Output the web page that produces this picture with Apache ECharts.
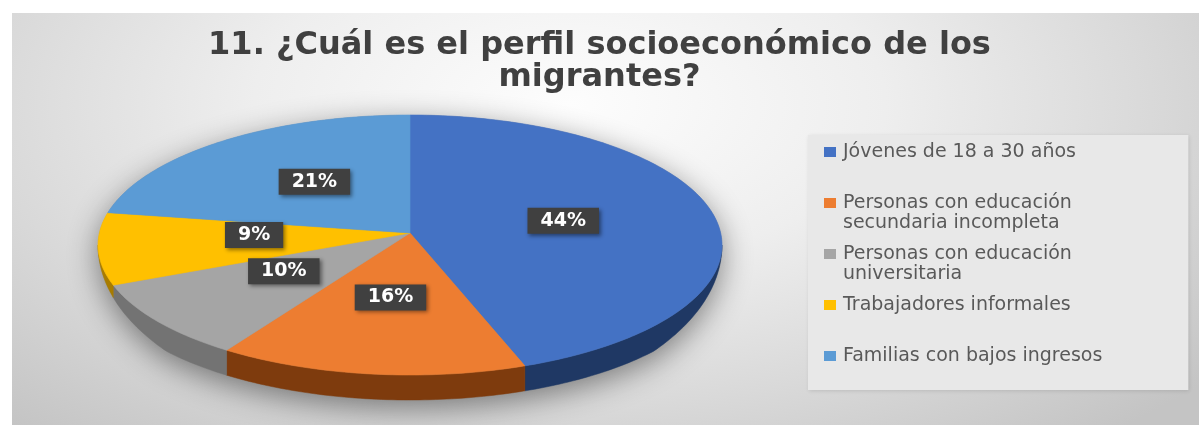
<!DOCTYPE html>
<html>
<head>
<meta charset="utf-8">
<script src="https://cdn.jsdelivr.net/npm/echarts@6/dist/echarts.min.js"></script>
<style>
html,body{margin:0;padding:0;background:#ffffff;width:1199px;height:425px;overflow:hidden;}
#bg{position:absolute;left:12px;top:13px;width:1187px;height:412px;
background:radial-gradient(ellipse 70% 105% at 47% 22%, #fdfdfd 0%, #eeeeee 38%, #d9d9d9 70%, #c4c4c4 100%);}
#chart{position:absolute;left:0;top:0;width:1199px;height:425px;}
</style>
</head>
<body>
<div id="bg"></div>
<div id="chart"></div>
<script>
// ---- data ----
const titleText = '11. ¿Cuál es el perfil socioeconómico de los\nmigrantes?';
const categories = [
  'Jóvenes de 18 a 30 años',
  'Personas con educación\nsecundaria incompleta',
  'Personas con educación\nuniversitaria',
  'Trabajadores informales',
  'Familias con bajos ingresos'
];
const values = [44, 16, 10, 9, 21];
const topColors = ['#4472C4', '#ED7D31', '#A5A5A5', '#FFC000', '#5B9BD5'];
const sideColors = ['#1F3864', '#7E3B0D', '#737373', '#A87C00', '#2F659A'];

// ---- layout (pixel geometry of the tilted pie) ----
const PIE = { cx: 410, cy: 245, rx: 312, ry: 130, apexDy: -12, depth: 25 };
const FONT = 'DejaVu Sans';

const total = values.reduce((a, b) => a + b, 0);
const startAng = [], endAng = [];
(function () {
  let acc = 0;
  values.forEach(v => { startAng.push(acc / total * 360); acc += v; endAng.push(acc / total * 360); });
})();

function depthAt(t) {
  const c = -Math.cos(t * Math.PI / 180);
  return PIE.depth * Math.max(0, Math.min(1, c * 1.6));
}
function rim(t, withDepth) {
  const r = t * Math.PI / 180;
  return [PIE.cx + PIE.rx * Math.sin(r), PIE.cy - PIE.ry * Math.cos(r) + (withDepth ? depthAt(t) : 0)];
}
function arc(a0, a1, withDepth) {
  const pts = [];
  const n = Math.max(2, Math.ceil(Math.abs(a1 - a0)));
  for (let k = 0; k <= n; k++) pts.push(rim(a0 + (a1 - a0) * k / n, withDepth));
  return pts;
}
const apex = [PIE.cx, PIE.cy + PIE.apexDy];

const series = [];
// base shadow + side walls
series.push({
  type: 'custom', name: 'base', coordinateSystem: 'none', silent: true, z: 1,
  data: values,
  renderItem: function (params) {
    const i = params.dataIndex;
    const children = [];
    if (i === 0) {
      const basePts = arc(-90, 90, false).concat(arc(90, 270, true));
      children.push({
        type: 'polygon', shape: { points: basePts },
        style: { fill: '#8f8f8f', shadowBlur: 30, shadowColor: 'rgba(0,0,0,0.45)', shadowOffsetY: 8 }
      });
    }
    const s = Math.max(startAng[i], 90), e = Math.min(endAng[i], 270);
    if (e > s) {
      const pts = arc(s, e, false).concat(arc(e, s, true));
      children.push({
        type: 'polygon', shape: { points: pts },
        style: { fill: sideColors[i], stroke: sideColors[i], lineWidth: 0.5 }
      });
    }
    return { type: 'group', children: children };
  }
});
// top faces, one series per category
categories.forEach((name, idx) => {
  series.push({
    type: 'custom', name: name, coordinateSystem: 'none', silent: true, z: 2,
    color: topColors[idx],
    data: [values[idx]],
    renderItem: function () {
      const pts = [apex].concat(arc(startAng[idx], endAng[idx], false));
      return {
        type: 'polygon', shape: { points: pts },
        style: { fill: topColors[idx], stroke: topColors[idx], lineWidth: 0.6 }
      };
    }
  });
});
// data labels
series.push({
  type: 'custom', name: 'labels', coordinateSystem: 'none', silent: true, z: 3,
  data: values,
  renderItem: function (params) {
    const i = params.dataIndex;
    const mid = (startAng[i] + endAng[i]) / 2;
    const p = rim(mid, false);
    const x = apex[0] + 0.5 * (p[0] - PIE.cx);
    const y = apex[1] + 0.5 * (p[1] - PIE.cy);
    return {
      type: 'text',
      style: {
        text: values[i] + '%', x: x, y: y, align: 'center', verticalAlign: 'middle',
        fill: '#ffffff', font: 'bold 19px "' + FONT + '"',
        backgroundColor: '#404040', padding: [4, 13, 3, 13],
        shadowBlur: 4, shadowColor: 'rgba(0,0,0,0.45)', shadowOffsetX: 2, shadowOffsetY: 2
      }
    };
  }
});

const rich = {
  s: { width: 12, height: 10 },
  t: { fontFamily: FONT, fontSize: 19, color: '#595959', padding: [0, 0, 0, 7], lineHeight: 20 }
};
topColors.forEach((c, i) => { rich['i' + i] = { width: 12, height: 10, backgroundColor: c }; });

const chart = echarts.init(document.getElementById('chart'), null, { renderer: 'canvas' });
chart.setOption({
  backgroundColor: 'transparent',
  animation: false,
  title: {
    text: titleText, left: 'center', top: 30, padding: 0,
    textStyle: { fontFamily: FONT, fontSize: 32, fontWeight: 'bold', color: '#404040', lineHeight: 32 }
  },
  legend: {
    data: categories, orient: 'vertical', left: 808, top: 135,
    itemWidth: 0, itemHeight: 0, itemGap: 0, icon: 'rect', selectedMode: false,
    padding: [0, 86, 0, 11], backgroundColor: '#e8e8e8',
    shadowBlur: 4, shadowColor: 'rgba(0,0,0,0.12)', shadowOffsetX: 1, shadowOffsetY: 1,
    formatter: function (name) {
      const i = categories.indexOf(name);
      return name.split('\n').map((l, k) => (k === 0 ? '{i' + i + '|}' : '{s|}') + '{t|' + l + '}').join('\n');
    },
    textStyle: { height: 44, padding: [7, 0, 0, 0], lineHeight: 20, rich: rich }
  },
  series: series
});
</script>
</body>
</html>
